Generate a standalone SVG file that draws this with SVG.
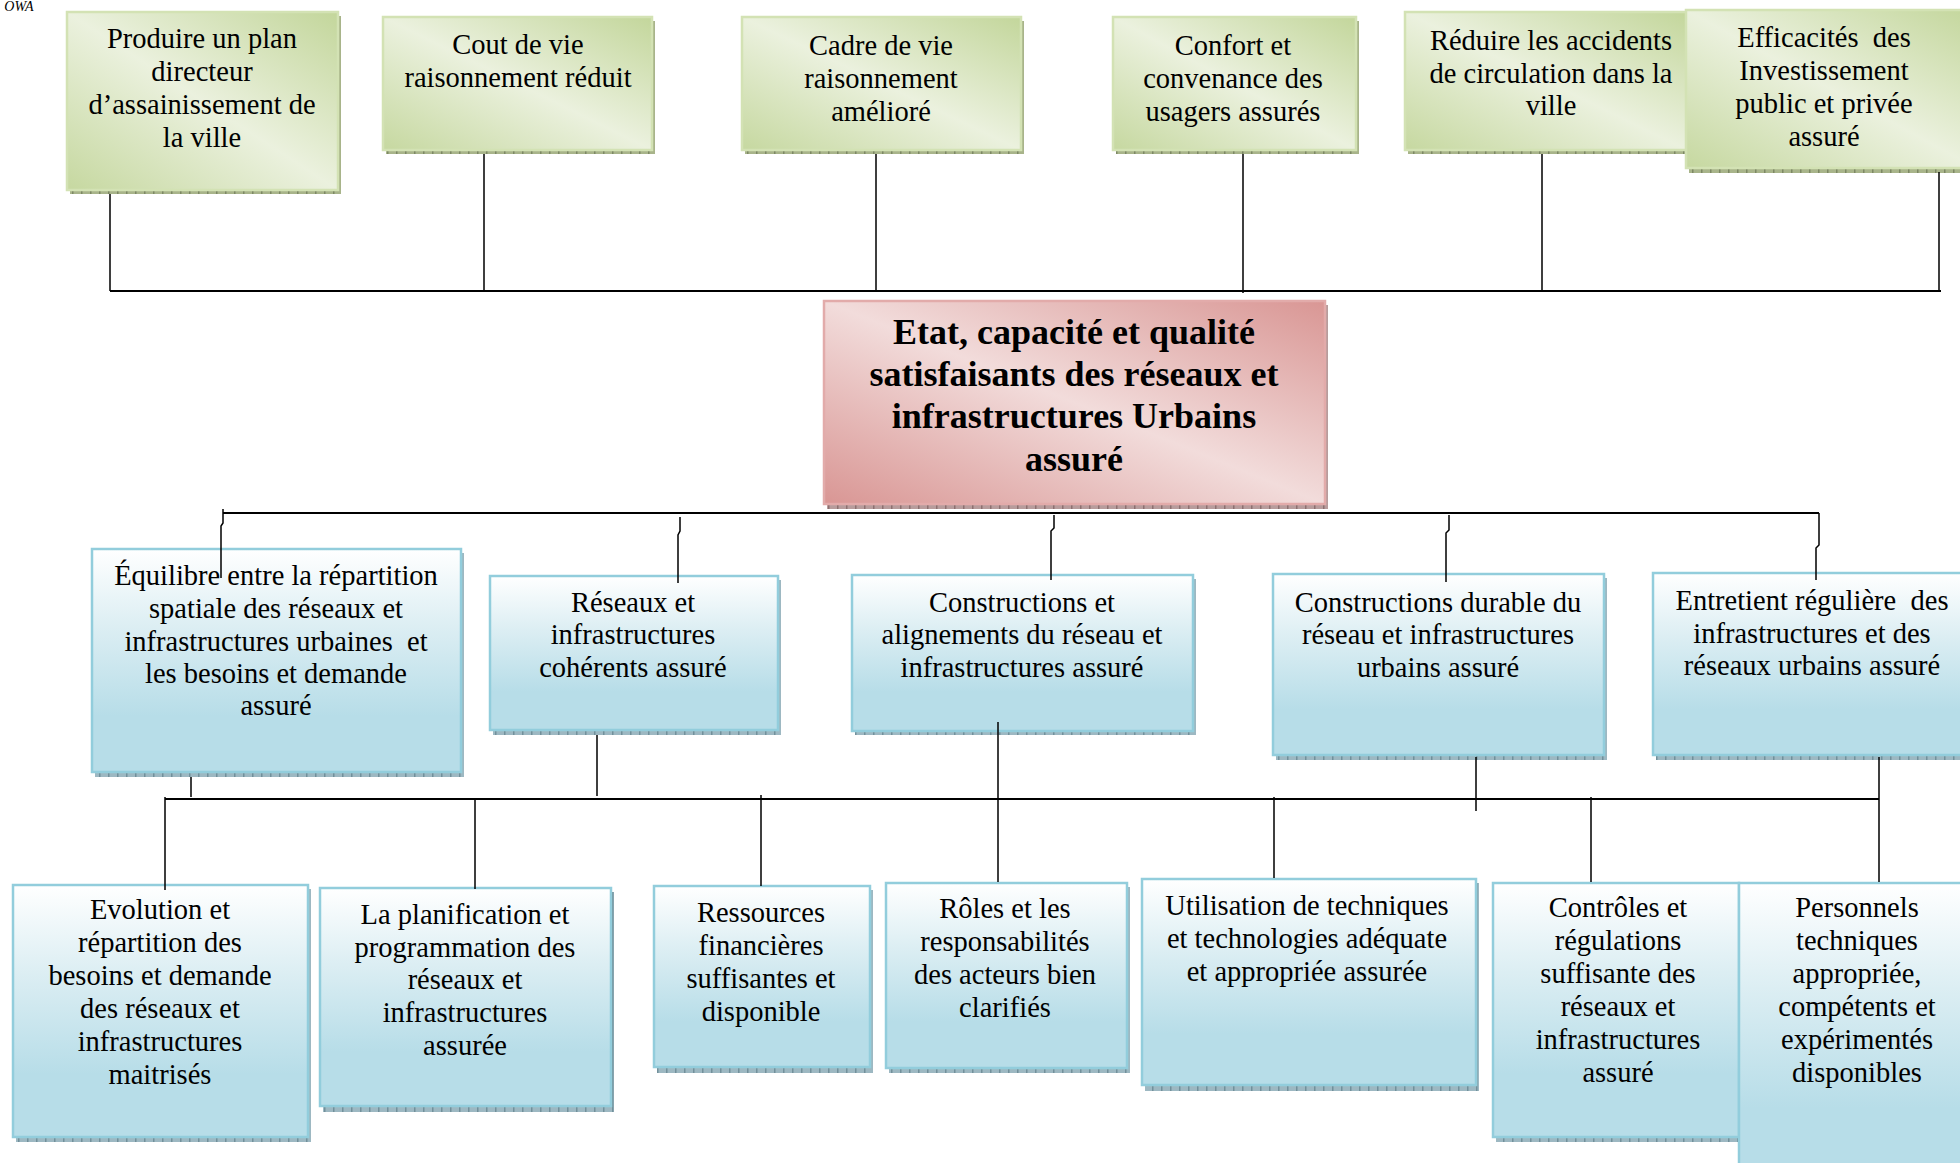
<svg xmlns="http://www.w3.org/2000/svg" width="1960" height="1163" viewBox="0 0 1960 1163">
<defs>
<linearGradient id="gGreen" x1="1" y1="0" x2="0" y2="1">
<stop offset="0" stop-color="#c3d69b"/><stop offset="0.5" stop-color="#ebf1de"/><stop offset="1" stop-color="#c6d8a0"/>
</linearGradient>
<linearGradient id="gPink" x1="1" y1="0" x2="0" y2="1">
<stop offset="0" stop-color="#d99694"/><stop offset="0.5" stop-color="#f2dcdb"/><stop offset="1" stop-color="#d99694"/>
</linearGradient>
<linearGradient id="gBlue" x1="0" y1="0" x2="0" y2="1">
<stop offset="0" stop-color="#ffffff"/><stop offset="0.35" stop-color="#dceef3"/><stop offset="0.75" stop-color="#b7dde8"/><stop offset="1" stop-color="#b7dde8"/>
</linearGradient>
<pattern id="shG" width="9" height="6" patternUnits="userSpaceOnUse"><rect width="9" height="6" fill="#a8b48a"/><rect width="1.5" height="6" fill="#7d8864"/></pattern>
<pattern id="shP" width="9" height="6" patternUnits="userSpaceOnUse"><rect width="9" height="6" fill="#b89c9c"/><rect width="1.5" height="6" fill="#8c7070"/></pattern>
<pattern id="shB" width="9" height="6" patternUnits="userSpaceOnUse"><rect width="9" height="6" fill="#9db8c2"/><rect width="1.5" height="6" fill="#72909b"/></pattern>
</defs>
<style>
text{font-family:'Liberation Serif','Times New Roman',serif;fill:#000;text-anchor:middle}
.t{font-size:28.5px}
.tc{font-size:36px;font-weight:bold}
.bg{fill:url(#gGreen);stroke:#d3e2b4;stroke-width:2.5}
.bp{fill:url(#gPink);stroke:#e2abaa;stroke-width:2.5}
.bb{fill:url(#gBlue);stroke:#92cddc;stroke-width:2.5}
.sg{fill:url(#shG)}
.sp{fill:url(#shP)}
.sb{fill:url(#shB)}
.c{fill:none;stroke:#000;stroke-width:1.5}
.h{fill:none;stroke:#000;stroke-width:2.2}
</style>
<rect width="1960" height="1163" fill="#fff"/>
<text x="19" y="11" style="font-size:14px;font-style:italic">OWA</text>

<g id="n1"><rect class="sg" x="70" y="16" width="271" height="178"/><rect class="bg" x="67" y="12" width="271" height="178"/>
<text class="t"><tspan x="202" y="48">Produire un plan</tspan><tspan x="202" y="81">directeur</tspan><tspan x="202" y="114">d’assainissement de</tspan><tspan x="202" y="147">la ville</tspan></text></g>
<g id="n2"><rect class="sg" x="386" y="21" width="269" height="133"/><rect class="bg" x="383" y="17" width="269" height="133"/>
<text class="t"><tspan x="518" y="54">Cout de vie</tspan><tspan x="518" y="87">raisonnement réduit</tspan></text></g>
<g id="n3"><rect class="sg" x="745" y="21" width="279" height="133"/><rect class="bg" x="742" y="17" width="279" height="133"/>
<text class="t"><tspan x="881" y="55">Cadre de vie</tspan><tspan x="881" y="88">raisonnement</tspan><tspan x="881" y="121">amélioré</tspan></text></g>
<g id="n4"><rect class="sg" x="1116" y="21" width="243" height="133"/><rect class="bg" x="1113" y="17" width="243" height="133"/>
<text class="t"><tspan x="1233" y="55">Confort et</tspan><tspan x="1233" y="88">convenance des</tspan><tspan x="1233" y="121">usagers assurés</tspan></text></g>
<g id="n5"><rect class="sg" x="1408" y="16" width="282" height="138"/><rect class="bg" x="1405" y="12" width="282" height="138"/>
<text class="t"><tspan x="1551" y="50">Réduire les accidents</tspan><tspan x="1551" y="83">de circulation dans la</tspan><tspan x="1551" y="115">ville</tspan></text></g>
<g id="n6"><rect class="sg" x="1689" y="15" width="290" height="158"/><rect class="bg" x="1686" y="10" width="290" height="158"/>
<text class="t"><tspan x="1824" y="47">Efficacités&#160; des</tspan><tspan x="1824" y="80">Investissement</tspan><tspan x="1824" y="113">public et privée</tspan><tspan x="1824" y="146">assuré</tspan></text></g>

<g id="center"><rect class="sp" x="827" y="305" width="501" height="204"/><rect class="bp" x="824" y="301" width="501" height="203"/>
<text class="tc"><tspan x="1074" y="344">Etat, capacité et qualité</tspan><tspan x="1074" y="386">satisfaisants des réseaux et</tspan><tspan x="1074" y="428">infrastructures Urbains</tspan><tspan x="1074" y="471">assuré</tspan></text></g>

<g id="m1"><rect class="sb" x="95" y="553" width="369" height="224"/><rect class="bb" x="92" y="549" width="369" height="223"/>
<text class="t"><tspan x="276" y="585">Équilibre entre la répartition</tspan><tspan x="276" y="618">spatiale des réseaux et</tspan><tspan x="276" y="651">infrastructures urbaines&#160; et</tspan><tspan x="276" y="683">les besoins et demande</tspan><tspan x="276" y="715">assuré</tspan></text></g>
<g id="m2"><rect class="sb" x="493" y="580" width="288" height="155"/><rect class="bb" x="490" y="576" width="288" height="154"/>
<text class="t"><tspan x="633" y="612">Réseaux et</tspan><tspan x="633" y="644">infrastructures</tspan><tspan x="633" y="677">cohérents assuré</tspan></text></g>
<g id="m3"><rect class="sb" x="855" y="579" width="341" height="156"/><rect class="bb" x="852" y="575" width="341" height="156"/>
<text class="t"><tspan x="1022" y="612">Constructions et</tspan><tspan x="1022" y="644">alignements du réseau et</tspan><tspan x="1022" y="677">infrastructures assuré</tspan></text></g>
<g id="m4"><rect class="sb" x="1276" y="578" width="331" height="182"/><rect class="bb" x="1273" y="574" width="331" height="181"/>
<text class="t"><tspan x="1438" y="612">Constructions durable du</tspan><tspan x="1438" y="644">réseau et infrastructures</tspan><tspan x="1438" y="677">urbains assuré</tspan></text></g>
<g id="m5"><rect class="sb" x="1656" y="577" width="320" height="183"/><rect class="bb" x="1653" y="573" width="320" height="182"/>
<text class="t"><tspan x="1812" y="610">Entretient régulière&#160; des</tspan><tspan x="1812" y="643">infrastructures et des</tspan><tspan x="1812" y="675">réseaux urbains assuré</tspan></text></g>

<g id="c1"><rect class="sb" x="16" y="889" width="295" height="253"/><rect class="bb" x="13" y="885" width="295" height="252"/>
<text class="t"><tspan x="160" y="919">Evolution et</tspan><tspan x="160" y="952">répartition des</tspan><tspan x="160" y="985">besoins et demande</tspan><tspan x="160" y="1018">des réseaux et</tspan><tspan x="160" y="1051">infrastructures</tspan><tspan x="160" y="1084">maitrisés</tspan></text></g>
<g id="c2"><rect class="sb" x="323" y="892" width="291" height="220"/><rect class="bb" x="320" y="888" width="291" height="218"/>
<text class="t"><tspan x="465" y="924">La planification et</tspan><tspan x="465" y="957">programmation des</tspan><tspan x="465" y="989">réseaux et</tspan><tspan x="465" y="1022">infrastructures</tspan><tspan x="465" y="1055">assurée</tspan></text></g>
<g id="c3"><rect class="sb" x="657" y="890" width="216" height="183"/><rect class="bb" x="654" y="886" width="216" height="181"/>
<text class="t"><tspan x="761" y="922">Ressources</tspan><tspan x="761" y="955">financières</tspan><tspan x="761" y="988">suffisantes et</tspan><tspan x="761" y="1021">disponible</tspan></text></g>
<g id="c4"><rect class="sb" x="889" y="887" width="241" height="186"/><rect class="bb" x="886" y="883" width="241" height="185"/>
<text class="t"><tspan x="1005" y="918">Rôles et les</tspan><tspan x="1005" y="951">responsabilités</tspan><tspan x="1005" y="984">des acteurs bien</tspan><tspan x="1005" y="1017">clarifiés</tspan></text></g>
<g id="c5"><rect class="sb" x="1145" y="883" width="334" height="208"/><rect class="bb" x="1142" y="879" width="334" height="206"/>
<text class="t"><tspan x="1307" y="915">Utilisation de techniques</tspan><tspan x="1307" y="948">et technologies adéquate</tspan><tspan x="1307" y="981">et appropriée assurée</tspan></text></g>
<g id="c6"><rect class="sb" x="1496" y="887" width="246" height="255"/><rect class="bb" x="1493" y="883" width="246" height="254"/>
<text class="t"><tspan x="1618" y="917">Contrôles et</tspan><tspan x="1618" y="950">régulations</tspan><tspan x="1618" y="983">suffisante des</tspan><tspan x="1618" y="1016">réseaux et</tspan><tspan x="1618" y="1049">infrastructures</tspan><tspan x="1618" y="1082">assuré</tspan></text></g>
<g id="c7"><rect class="bb" x="1739" y="883" width="240" height="300"/>
<text class="t"><tspan x="1857" y="917">Personnels</tspan><tspan x="1857" y="950">techniques</tspan><tspan x="1857" y="983">appropriée,</tspan><tspan x="1857" y="1016">compétents et</tspan><tspan x="1857" y="1049">expérimentés</tspan><tspan x="1857" y="1082">disponibles</tspan></text></g>

<g id="connectors">
<path class="h" d="M110,291 H1941"/>
<path class="c" d="M110,194 V291 M484,154 V291 M876,154 V291 M1243,154 V293 M1542,154 V291 M1939,172 V291"/>
<path class="h" d="M223,513 H1819"/>
<path class="c" d="M223,509 V523 L221,526 V578 M680,517 V531 L678,535 V583 M1054,515 V528 L1051,531 V580 M1449,515 V530 L1446,533 V582 M1819,513 V545 L1816,548 V580"/>
<path class="h" d="M165,799 H1879"/>
<path class="c" d="M191,777 V797 M597,735 V796 M165,797 V890 M475,799 V889 M761,795 V886 M998,722 V882 M1274,797 V878 M1476,757 V811 M1591,797 V882 M1879,757 V882"/>
</g>
</svg>
